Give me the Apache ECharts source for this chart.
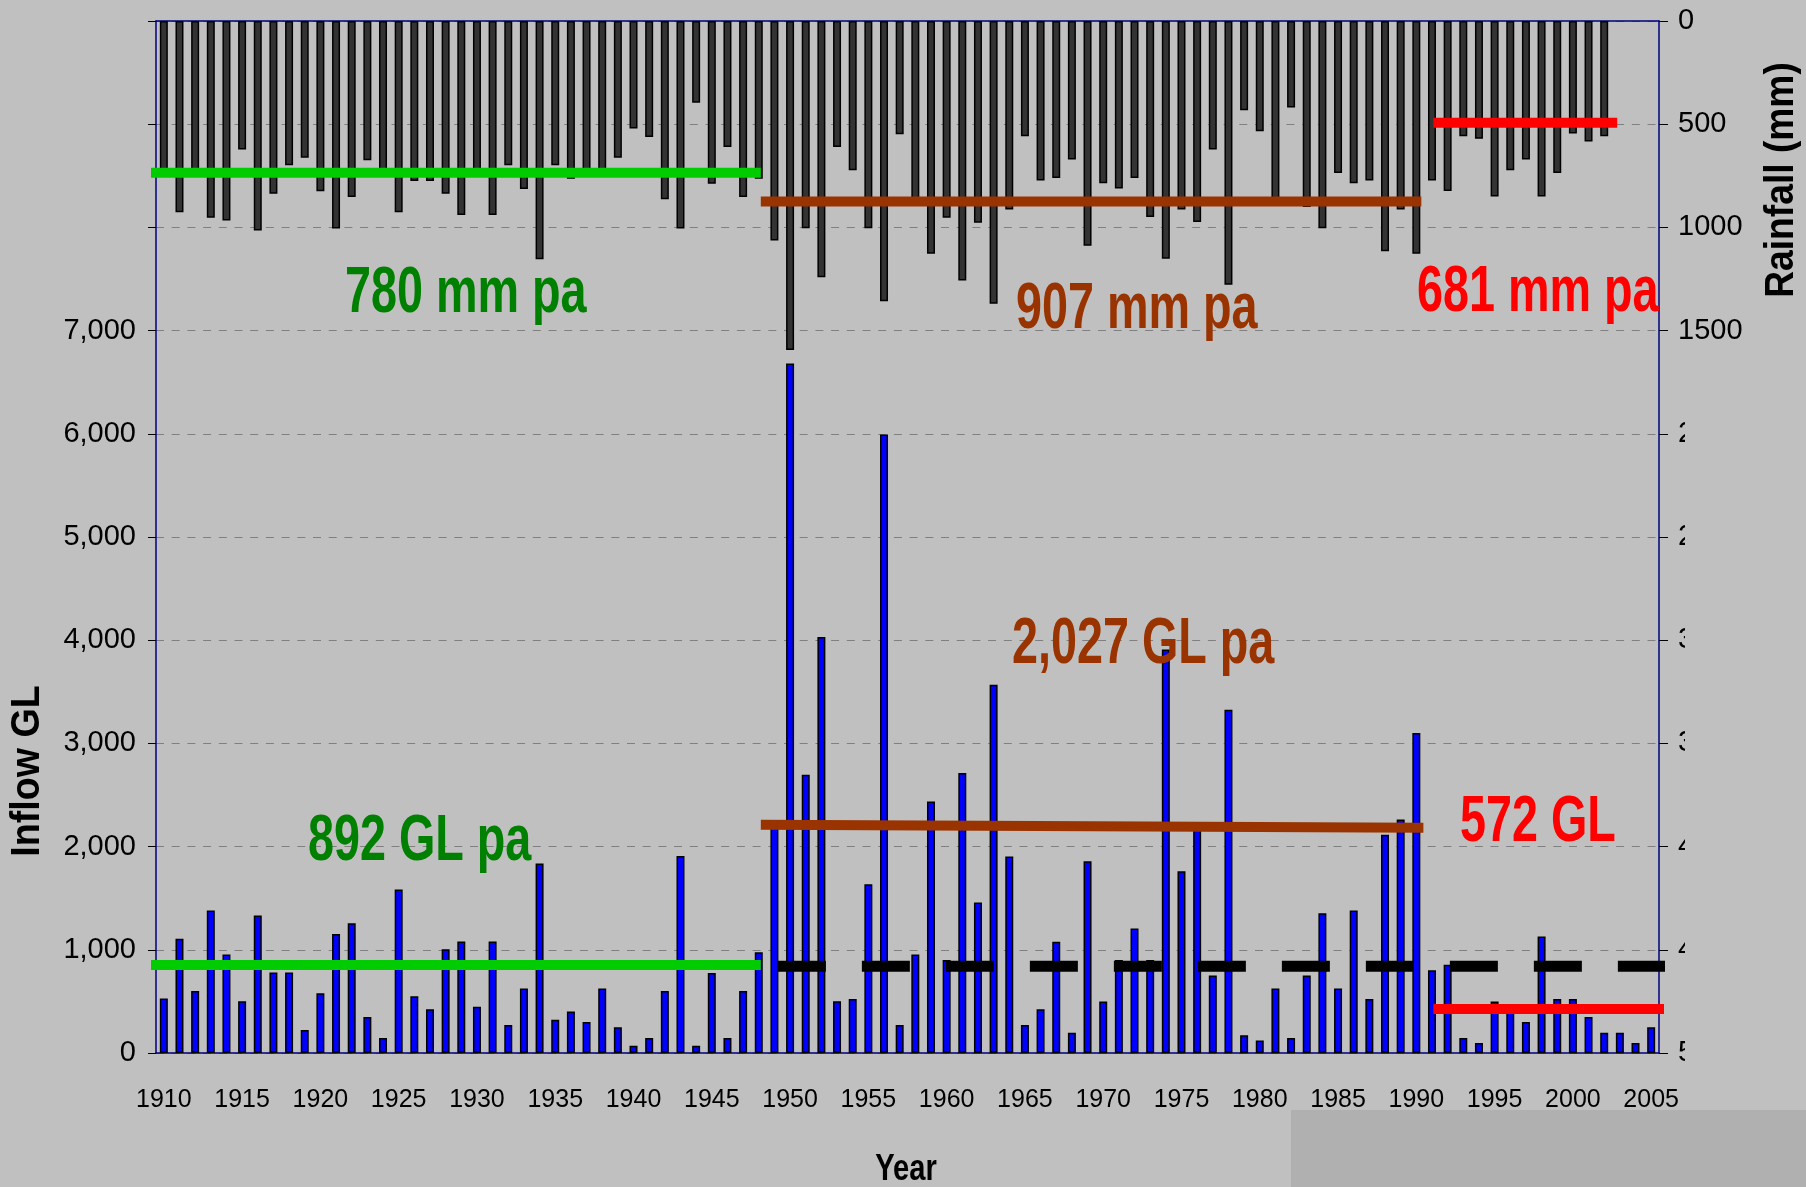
<!DOCTYPE html>
<html lang="en">
	<head>
		<meta charset="UTF-8" />
		<title>Inflow and rainfall</title>
		<script src="https://cdn.jsdelivr.net/npm/echarts@6/dist/echarts.min.js"></script>
		<style>
			html, body { margin: 0; padding: 0; background: #c0c0c0; }
			#chart { width: 1806px; height: 1187px; }
		</style>
	</head>
	<body>
		<div id="chart"></div>
		<script>
			// categories
			const years = [
				'1910', '1911', '1912', '1913', '1914', '1915', '1916', '1917', '1918', '1919',
				'1920', '1921', '1922', '1923', '1924', '1925', '1926', '1927', '1928', '1929',
				'1930', '1931', '1932', '1933', '1934', '1935', '1936', '1937', '1938', '1939',
				'1940', '1941', '1942', '1943', '1944', '1945', '1946', '1947', '1948', '1949',
				'1950', '1951', '1952', '1953', '1954', '1955', '1956', '1957', '1958', '1959',
				'1960', '1961', '1962', '1963', '1964', '1965', '1966', '1967', '1968', '1969',
				'1970', '1971', '1972', '1973', '1974', '1975', '1976', '1977', '1978', '1979',
				'1980', '1981', '1982', '1983', '1984', '1985', '1986', '1987', '1988', '1989',
				'1990', '1991', '1992', '1993', '1994', '1995', '1996', '1997', '1998', '1999',
				'2000', '2001', '2002', '2003', '2004', '2005'
			]

			// annual inflow, GL
			const inflow = [
				527, 1106, 601, 1381, 954, 501, 1332, 779, 779, 223,
				579, 1154, 1258, 349, 146, 1584, 550, 424, 1006, 1080,
				449, 1080, 272, 624, 1837, 323, 401, 301, 624, 249,
				71, 146, 601, 1908, 71, 776, 146, 601, 976, 2200,
				6680, 2696, 4032, 501, 524, 1636, 5994, 272, 954, 2438,
				902, 2713, 1458, 3569, 1905, 272, 424, 1077, 197, 1859,
				498, 902, 1206, 902, 3910, 1762, 2190, 750, 3327, 171,
				120, 624, 146, 750, 1355, 624, 1381, 524, 2115, 2263,
				3101, 802, 854, 146, 97, 498, 430, 301, 1129, 524,
				524, 349, 197, 197, 97, 249
			]

			// annual rainfall, mm (hangs from the top, right axis)
			const rainfall = [
				735, 926, 740, 953, 966, 623, 1015, 837, 699, 662,
				825, 1005, 853, 675, 740, 927, 775, 775, 837, 940,
				740, 940, 699, 814, 1154, 699, 764, 740, 730, 662,
				521, 562, 864, 1005, 396, 788, 610, 853, 764, 1063,
				1594, 1004, 1241, 610, 723, 1004, 1358, 549, 869, 1128,
				953, 1257, 977, 1370, 913, 558, 773, 761, 671, 1089,
				786, 812, 761, 950, 1152, 913, 974, 623, 1278, 432,
				534, 870, 419, 901, 1004, 736, 786, 773, 1115, 913,
				1128, 773, 824, 558, 571, 850, 723, 671, 850, 736,
				545, 584, 558, null, null, null
			]

			// period average lines as drawn on the chart: [year, value]
			const rainGreen = [[1908.63, 735], [1948.13, 735]]
			const rainBrown = [[1948.13, 874], [1990.32, 874]]
			const rainRed = [[1991.09, 493], [2002.83, 493]]
			const inflowGreen = [[1908.5, 853], [1948.13, 853]]
			const inflowBrown = [[1948.13, 2211], [1990.45, 2182]]
			const inflowRed = [[1991.09, 427], [2005.83, 427]]
			const inflowDashed = [[1949.22, 840], [2005.96, 840]]

			const SANS = "'Liberation Sans', Arial, sans-serif"
			const GREEN = '#00cc00'
			const GREEN_TEXT = '#008000'
			const BROWN = '#993300'
			const RED = '#ff0000'
			const NAVY = '#000080'

			const chart = echarts.init(document.getElementById('chart'), null, { renderer: 'canvas' })

			function avgLine(data, yAxisIndex, color, width, type) {
				return {
					type: 'line',
					data: data,
					xAxisIndex: 2,
					yAxisIndex: yAxisIndex,
					symbol: 'none',
					clip: false,
					silent: true,
					z: 5,
					lineStyle: { color: color, width: width, type: type || 'solid', cap: 'butt' }
				}
			}

			// narrow bold look: Liberation Sans squeezed horizontally
			function note(text, x, y, color) {
				return {
					type: 'text',
					x: x,
					y: y,
					scaleX: 0.73,
					z: 20,
					style: {
						text: text,
						fill: color,
						font: 'bold 64px ' + SANS,
						textVerticalAlign: 'middle',
						verticalAlign: 'middle'
					}
				}
			}

			function title(text, x, y, size, sx, rot) {
				return {
					type: 'text',
					x: x,
					y: y,
					rotation: rot,
					scaleX: sx,
					z: 20,
					style: {
						text: text,
						fill: '#000',
						font: 'bold ' + size + 'px ' + SANS,
						textAlign: 'center',
						align: 'center',
						textVerticalAlign: 'middle',
						verticalAlign: 'middle'
					}
				}
			}

			const option = {
				backgroundColor: '#c0c0c0',
				animation: false,
				grid: { left: 156, top: 21, width: 1503, height: 1032, containLabel: false },
				xAxis: [
					{
						type: 'category',
						data: years,
						position: 'bottom',
						axisLine: { lineStyle: { color: NAVY, width: 1.5 } },
						axisTick: { interval: 0, length: 7, lineStyle: { color: '#000' } },
						axisLabel: { interval: 4, fontSize: 25, fontFamily: SANS, color: '#000', margin: 35 },
						splitLine: { show: false }
					},
					{
						type: 'category',
						data: years,
						position: 'bottom',
						axisLine: { show: false },
						axisTick: { interval: 4, length: 11, lineStyle: { color: '#000' } },
						axisLabel: { show: false },
						splitLine: { show: false }
					},
					{
						type: 'value',
						min: 1909.5,
						max: 2005.5,
						position: 'top',
						axisLine: { show: true, lineStyle: { color: NAVY, width: 1.5 } },
						axisTick: { show: false },
						axisLabel: { show: false },
						splitLine: { show: false }
					}
				],
				yAxis: [
					{
						type: 'value',
						min: 0,
						max: 10000,
						interval: 1000,
						position: 'left',
						axisLine: { show: true, lineStyle: { color: NAVY, width: 1.5 } },
						axisTick: { show: true, length: 8, lineStyle: { color: '#000' } },
						axisLabel: {
							fontSize: 29,
							fontFamily: SANS,
							color: '#000',
							margin: 20,
							formatter: v => (v <= 7000 ? v.toLocaleString('en-US') : '')
						},
						splitLine: { lineStyle: { color: '#808080', type: [8, 7.7] } }
					},
					{
						type: 'value',
						min: 0,
						max: 5000,
						interval: 500,
						inverse: true,
						position: 'right',
						axisLine: { show: true, lineStyle: { color: NAVY, width: 1.5 } },
						axisTick: { show: true, length: 9, lineStyle: { color: '#000' } },
						axisLabel: { fontSize: 29, fontFamily: SANS, color: '#000', margin: 19, formatter: v => String(v) },
						splitLine: { show: false }
					}
				],
				series: [
					{
						name: 'Inflow',
						type: 'bar',
						data: inflow,
						xAxisIndex: 0,
						yAxisIndex: 0,
						barWidth: 8,
						barGap: '-100%',
						itemStyle: { color: '#0000ff', borderColor: '#000', borderWidth: 1.5 }
					},
					{
						name: 'Rainfall',
						type: 'bar',
						data: rainfall,
						xAxisIndex: 0,
						yAxisIndex: 1,
						barWidth: 8,
						barGap: '-100%',
						itemStyle: { color: '#333333', borderColor: '#000', borderWidth: 1.5 }
					},
					avgLine(rainGreen, 1, GREEN, 10),
					avgLine(rainBrown, 1, BROWN, 10),
					avgLine(rainRed, 1, RED, 10),
					avgLine(inflowGreen, 0, GREEN, 10),
					avgLine(inflowBrown, 0, BROWN, 10),
					avgLine(inflowRed, 0, RED, 10),
					avgLine(inflowDashed, 0, '#000', 11, [48, 36])
				],
				graphic: [
					// boxes that hide the lower right axis labels
					{ type: 'rect', z: 10, shape: { x: 1685, y: 360, width: 121, height: 760 }, style: { fill: '#c0c0c0' } },
					{ type: 'rect', z: 10, shape: { x: 1291, y: 1110, width: 515, height: 77 }, style: { fill: '#b0b0b0' } },
					note('780 mm pa', 345, 294, GREEN_TEXT),
					note('907 mm pa', 1016, 310, BROWN),
					note('681 mm pa', 1417, 293, RED),
					note('892 GL pa', 308, 842, GREEN_TEXT),
					note('2,027 GL pa', 1012, 645, BROWN),
					note('572 GL', 1460, 823, RED),
					title('Inflow GL', 28, 771, 40, 0.94, Math.PI / 2),
					title('Rainfall (mm)', 1782, 180, 40, 0.93, Math.PI / 2),
					title('Year', 906, 1170, 36, 0.81, 0)
				]
			}
			chart.setOption(option)
		</script>
	</body>
</html>
